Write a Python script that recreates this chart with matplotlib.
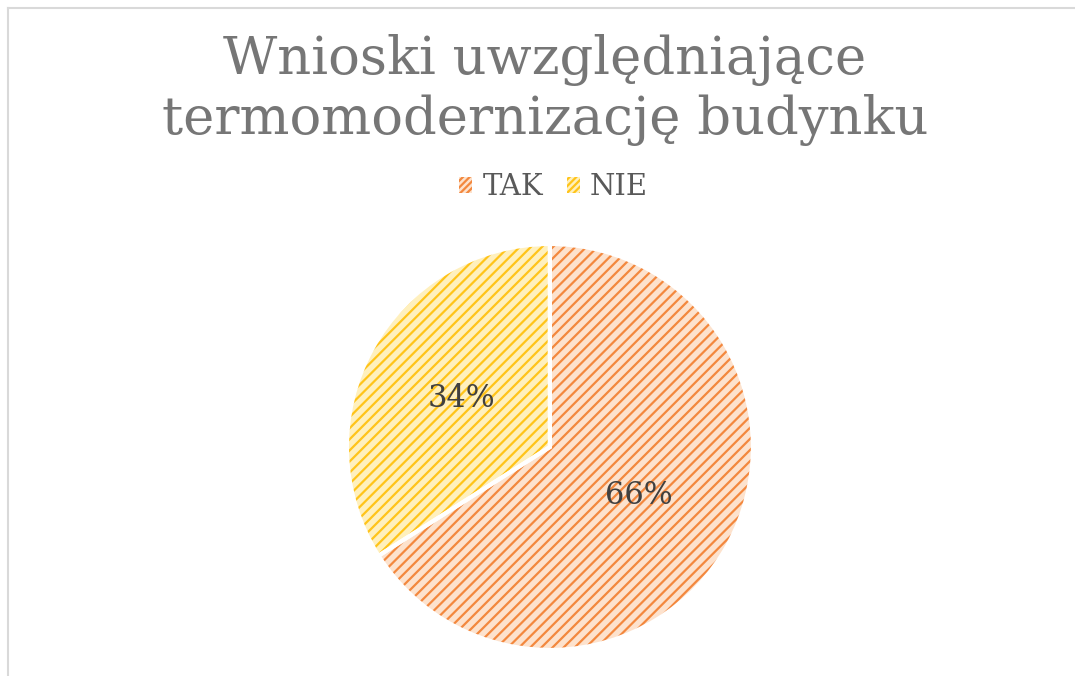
import matplotlib.pyplot as plt
from matplotlib.patches import Patch
from matplotlib.lines import Line2D

labels = ['TAK', 'NIE']
shares = [66, 34]
face_colors = ['#fde2cd', '#fff0bd']
hatch_colors = ['#f3883e', '#ffc41a']

plt.rcParams['hatch.linewidth'] = 1.6

fig = plt.figure(figsize=(10.75, 6.76), dpi=100)
ax = fig.add_axes([0.3227, 0.0385, 0.3777, 0.6006])

# hatched fill first, then white slice borders on top
wedges, _ = ax.pie(shares, startangle=90, counterclock=False,
                   colors=face_colors, radius=1.0,
                   wedgeprops=dict(linewidth=0))
for w, hc in zip(wedges, hatch_colors):
    w.set_hatch('///')
    w.set_edgecolor(hc)

border, texts = ax.pie(shares, startangle=90, counterclock=False,
                       colors=['none', 'none'], radius=1.0,
                       labels=[f'{s}%' for s in shares], labeldistance=0.5,
                       wedgeprops=dict(linewidth=3, edgecolor='white'),
                       textprops=dict(fontsize=22, color='#404040',
                                      family='DejaVu Serif',
                                      ha='center', va='center'))
ax.set_xlim(-1, 1)
ax.set_ylim(-1, 1)
ax.set_aspect('equal')

fig.text(0.507, 0.867, 'Wnioski uwzględniające\ntermomodernizację budynku',
         ha='center', va='center', fontsize=38, color='#767676',
         family='DejaVu Serif', linespacing=1.22)

handles = [Patch(facecolor=fc, edgecolor=hc, hatch='/////', linewidth=0)
           for fc, hc in zip(face_colors, hatch_colors)]
fig.legend(handles, labels, loc='center', bbox_to_anchor=(0.515, 0.723),
           ncol=2, frameon=False, handlelength=0.45,
           handleheight=0.45, handletextpad=0.35, columnspacing=0.8,
           prop=dict(family='DejaVu Serif', size=21),
           labelcolor='#595959')

# chart area border (top and left visible)
fig.add_artist(Line2D([0.0075, 0.0075], [0.0, 0.988], color='#d9d9d9', lw=1.5))
fig.add_artist(Line2D([0.0075, 1.0], [0.988, 0.988], color='#d9d9d9', lw=1.5))

fig.savefig('out.png', dpi=100, facecolor='white')
